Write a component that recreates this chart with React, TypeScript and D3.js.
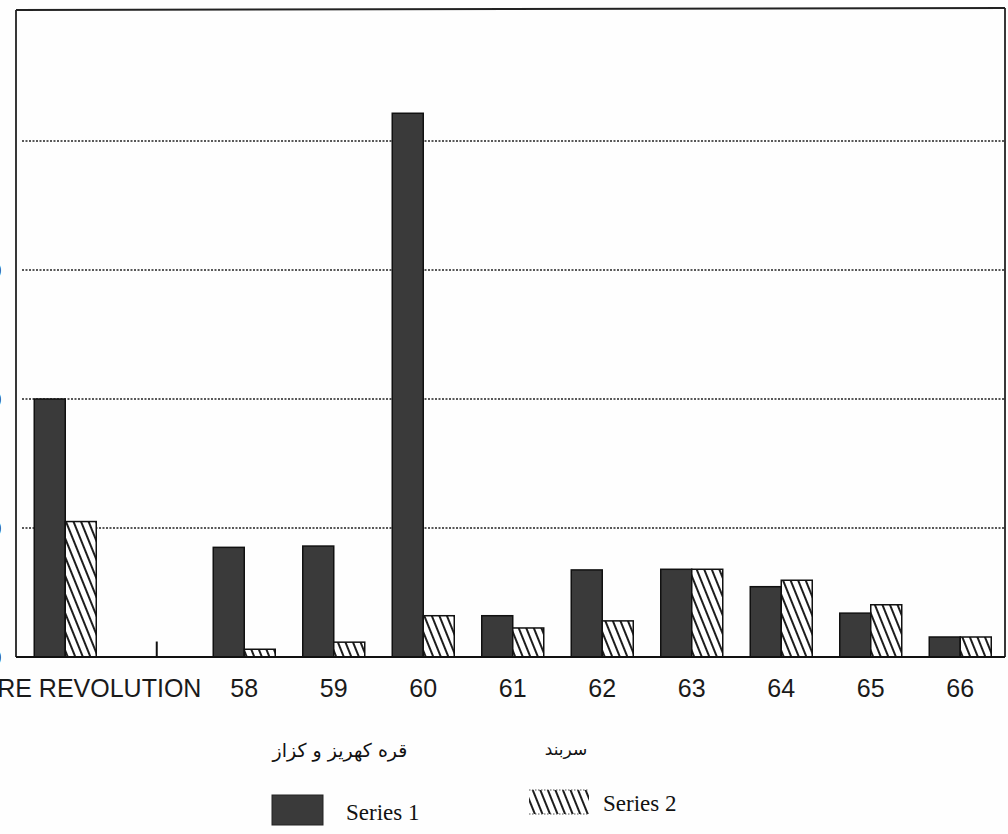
import React from "react";
import * as d3 from "d3";

const categories = ["BEFORE REVOLUTION", "", "58", "59", "60", "61", "62", "63", "64", "65", "66"];
const series1 = [40, 0, 17, 17.2, 84.3, 6.4, 13.5, 13.6, 10.9, 6.8, 3.1];
const series2 = [21, 0, 1.2, 2.3, 6.4, 4.5, 5.6, 13.6, 11.9, 8.1, 3.1];
const seriesNames = ["Series 1", "Series 2"];
const seriesTitles = ["قره کهریز و کزاز", "سربند"];
const gridTicks = [20, 40, 60, 80];
const labelTicks = [0, 20, 40, 60];
const markerCategory = 1; // small stray tick mark visible at this category
const markerValue = 2.4;

const W = 1008;
const H = 834;
const frame = { left: 16, right: 1005, top: 10, bottom: 657 };

export default function App() {
  const x = d3.scaleBand<string>().domain(categories.map((_, i) => String(i))).range([20.5, 1005]);
  const inner = d3.scaleBand<string>().domain(["0", "1"]).range([0, 62]);
  const y = d3.scaleLinear().domain([0, 100]).range([frame.bottom, 12]);
  const groupX = (i: number) => (x(String(i)) as number) + x.bandwidth() / 2 - 31;

  return (
    <svg
      width={W}
      height={H}
      style={{ position: "absolute", left: 0, top: 0, background: "#fefefe" }}
    >
      <defs>
        <pattern id="hatch" width="7" height="7" patternUnits="userSpaceOnUse" patternTransform="rotate(-22)">
          <rect width="7" height="7" fill="#fff" />
          <line x1="2" y1="0" x2="2" y2="7" stroke="#111" strokeWidth="1.9" />
        </pattern>
      </defs>
      <rect x={0} y={0} width={W} height={H} fill="#fefefe" />

      {/* gridlines */}
      {gridTicks.map((t) => (
        <line
          key={t}
          x1={frame.left + 6}
          x2={frame.right}
          y1={y(t)}
          y2={y(t)}
          stroke="#222"
          strokeWidth={1.3}
          strokeDasharray="2,1.5"
        />
      ))}

      {/* y tick labels (cut off at the left edge) */}
      {labelTicks.map((t) => (
        <text
          key={t}
          x={1.5}
          y={y(t) + 8}
          textAnchor="end"
          fontFamily="'Liberation Sans', Arial, sans-serif"
          fontSize={22}
          fill="#222"
        >
          {t}
        </text>
      ))}

      {/* bars */}
      {categories.map((c, i) => (
        <g key={i} transform={`translate(${groupX(i)},0)`}>
          {series1[i] > 0 && (
            <rect
              x={inner("0")}
              y={y(series1[i])}
              width={inner.bandwidth()}
              height={y(0) - y(series1[i])}
              fill="#3a3a3a"
              stroke="#111"
              strokeWidth={1.5}
            />
          )}
          {series2[i] > 0 && (
            <rect
              x={inner("1")}
              y={y(series2[i])}
              width={inner.bandwidth()}
              height={y(0) - y(series2[i])}
              fill="url(#hatch)"
              stroke="#111"
              strokeWidth={1.5}
            />
          )}
        </g>
      ))}

      {/* stray small mark */}
      <line
        x1={(x(String(markerCategory)) as number) + x.bandwidth() / 2 + 2}
        x2={(x(String(markerCategory)) as number) + x.bandwidth() / 2 + 2}
        y1={y(markerValue)}
        y2={y(0)}
        stroke="#111"
        strokeWidth={2}
      />

      {/* frame */}
      <line x1={frame.left} x2={frame.right} y1={frame.top} y2={frame.top - 2} stroke="#222" strokeWidth={1.8} />
      <line x1={frame.left} x2={frame.left} y1={frame.top} y2={frame.bottom} stroke="#222" strokeWidth={1.8} />
      <line x1={frame.right} x2={frame.right} y1={frame.top - 2} y2={frame.bottom} stroke="#222" strokeWidth={1.8} />
      <line x1={frame.left} x2={frame.right} y1={frame.bottom} y2={frame.bottom} stroke="#111" strokeWidth={2} />

      {/* x labels */}
      {categories.map((c, i) => (
        <text
          key={i}
          x={(x(String(i)) as number) + x.bandwidth() / 2}
          y={697}
          textAnchor="middle"
          fontFamily="'Liberation Sans', Arial, sans-serif"
          fontSize={25}
          fill="#1a1a1a"
        >
          {c}
        </text>
      ))}

      {/* legend */}
      <text x={340} y={757} textAnchor="middle" fontFamily="'DejaVu Sans', sans-serif" fontSize={19} fill="#111" direction="rtl">
        {seriesTitles[0]}
      </text>
      <text x={566} y={755} textAnchor="middle" fontFamily="'DejaVu Sans', sans-serif" fontSize={17} fill="#111" direction="rtl">
        {seriesTitles[1]}
      </text>
      <rect x={272} y={795} width={51} height={30} fill="#3a3a3a" stroke="#222" strokeWidth={1} />
      <text x={346} y={820} fontFamily="'Liberation Serif', 'Times New Roman', serif" fontSize={23} fill="#111">
        {seriesNames[0]}
      </text>
      <rect x={529} y={790} width={60} height={24} fill="url(#hatch)" />
      <line x1={529} x2={589} y1={790} y2={790} stroke="#555" strokeWidth={1} strokeDasharray="1.5,1.5" />
      <line x1={529} x2={589} y1={814} y2={814} stroke="#555" strokeWidth={1} strokeDasharray="1.5,1.5" />
      <text x={603} y={811} fontFamily="'Liberation Serif', 'Times New Roman', serif" fontSize={23} fill="#111">
        {seriesNames[1]}
      </text>
    </svg>
  );
}
